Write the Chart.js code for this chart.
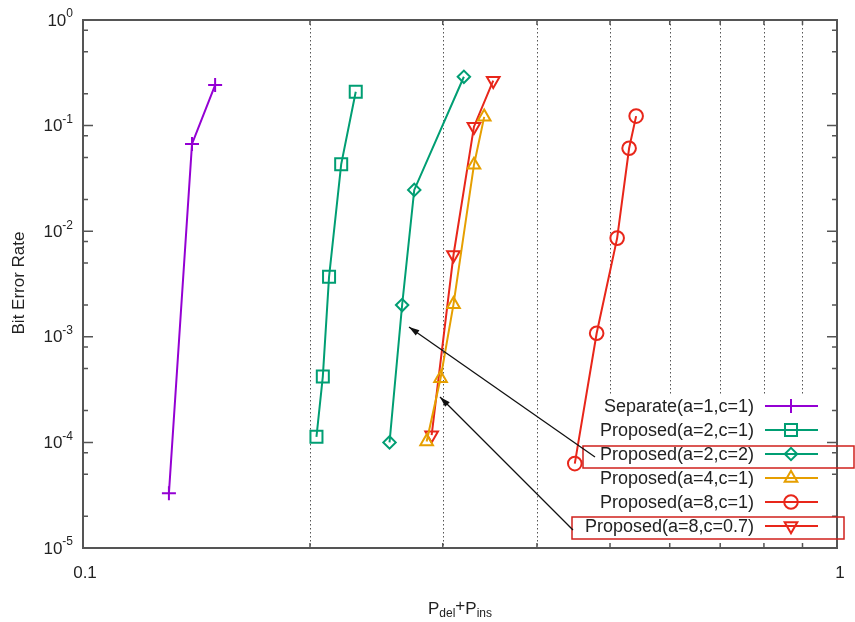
<!DOCTYPE html>
<html>
<head>
<meta charset="utf-8">
<script src="https://cdn.jsdelivr.net/npm/chart.js@4.4.1/dist/chart.umd.min.js"></script>
<style>
    html, body { margin: 0; padding: 0; background: #fff; }
    canvas { display: block; }
</style>
</head>
<body>
<canvas id="berChart" width="855" height="622"></canvas>
<script>
// values (P_del+P_ins, bit error rate)
const sepX = [0.130, 0.1395, 0.1497];
const sepY = [3.3e-5, 0.067, 0.242];

const p21X = [0.204, 0.208, 0.212, 0.220, 0.230];
const p21Y = [1.13e-4, 4.2e-4, 3.7e-3, 0.043, 0.209];

const p22X = [0.255, 0.265, 0.275, 0.320];
const p22Y = [1.0e-4, 2.0e-3, 0.0246, 0.29];

const p41X = [0.2856, 0.298, 0.310, 0.330, 0.3405];
const p41Y = [1.02e-4, 4.05e-4, 2.03e-3, 0.0424, 0.121];

const p81X = [0.449, 0.480, 0.511, 0.530, 0.5415];
const p81Y = [6.3e-5, 1.08e-3, 8.6e-3, 0.061, 0.123];

const p807X = [0.290, 0.310, 0.330, 0.350];
const p807Y = [1.17e-4, 5.95e-3, 0.0977, 0.266];

const seriesLabels = [
    'Separate(a=1,c=1)',
    'Proposed(a=2,c=1)',
    'Proposed(a=2,c=2)',
    'Proposed(a=4,c=1)',
    'Proposed(a=8,c=1)',
    'Proposed(a=8,c=0.7)'
];

// axis ticks
const xTickValues = [0.1, 1];
const xTickLabels = ['0.1', '1'];
const xMinorTicks = [0.2, 0.3, 0.4, 0.5, 0.6, 0.7, 0.8, 0.9];
const yTickExponents = [0, -1, -2, -3, -4, -5];
const yMinorFactors = [2, 5, 8];

// arrow tips in data units, pointing at the highlighted curves
const arrowTips = [[0.2706, 1.24e-3], [0.2975, 2.69e-4]];

const PURPLE = '#9400d3';
const GREEN = '#009e73';
const ORANGE = '#e69f00';
const RED = '#e8261a';

function toPoints(xs, ys) {
    return xs.map((x, i) => ({ x: x, y: ys[i] }));
}

function makeSet(label, xs, ys, color, style, radius, rotation) {
    return {
        label: label,
        data: toPoints(xs, ys),
        borderColor: color,
        backgroundColor: 'rgba(0,0,0,0)',
        borderWidth: 2,
        pointStyle: style,
        pointRadius: radius,
        pointHoverRadius: radius,
        pointRotation: rotation || 0,
        pointBorderColor: color,
        pointBackgroundColor: 'rgba(0,0,0,0)',
        pointBorderWidth: 2,
        tension: 0,
        fill: false
    };
}

const datasets = [
    makeSet(seriesLabels[0], sepX, sepY, PURPLE, 'cross', 7),
    makeSet(seriesLabels[1], p21X, p21Y, GREEN, 'rect', 8.5),
    makeSet(seriesLabels[2], p22X, p22Y, GREEN, 'rectRot', 6.2),
    makeSet(seriesLabels[3], p41X, p41Y, ORANGE, 'triangle', 7.3),
    makeSet(seriesLabels[4], p81X, p81Y, RED, 'circle', 6.8),
    makeSet(seriesLabels[5], p807X, p807Y, RED, 'triangle', 7.3, 180)
];

const FONT = '"Liberation Sans", Arial, sans-serif';
const TEXT = '#222';

function markerOpts(ds) {
    return {
        pointStyle: ds.pointStyle,
        radius: ds.pointRadius,
        rotation: ds.pointRotation,
        borderWidth: ds.pointBorderWidth
    };
}

const gridPlugin = {
    id: 'gnuplotGrid',
    beforeDatasetsDraw(chart) {
        const ctx = chart.ctx;
        const area = chart.chartArea;
        const xs = chart.scales.x;
        ctx.save();
        ctx.strokeStyle = '#555';
        ctx.lineWidth = 1;
        ctx.setLineDash([1.5, 2.5]);
        xMinorTicks.forEach(v => {
            const px = Math.round(xs.getPixelForValue(v)) + 0.5;
            ctx.beginPath();
            ctx.moveTo(px, area.top);
            ctx.lineTo(px, area.bottom);
            ctx.stroke();
        });
        ctx.setLineDash([]);
        // opaque legend box
        ctx.fillStyle = '#fff';
        ctx.fillRect(area.right - 247, area.bottom - 153, 246, 152);
        ctx.restore();
    }
};

const framePlugin = {
    id: 'gnuplotFrame',
    afterDraw(chart) {
        const ctx = chart.ctx;
        const area = chart.chartArea;
        const xs = chart.scales.x;
        const ys = chart.scales.y;
        ctx.save();

        // frame
        ctx.strokeStyle = '#555';
        ctx.lineWidth = 2;
        ctx.strokeRect(area.left, area.top, area.right - area.left, area.bottom - area.top);

        // y ticks, both sides, inward
        ctx.lineWidth = 1.5;
        ctx.beginPath();
        yTickExponents.forEach(e => {
            const py = ys.getPixelForValue(Math.pow(10, e));
            ctx.moveTo(area.left, py); ctx.lineTo(area.left + 10, py);
            ctx.moveTo(area.right, py); ctx.lineTo(area.right - 10, py);
            if (e > -5) {
                yMinorFactors.forEach(f => {
                    const my = ys.getPixelForValue(f * Math.pow(10, e - 1));
                    ctx.moveTo(area.left, my); ctx.lineTo(area.left + 5, my);
                    ctx.moveTo(area.right, my); ctx.lineTo(area.right - 5, my);
                });
            }
        });
        xMinorTicks.forEach(v => {
            const px = xs.getPixelForValue(v);
            ctx.moveTo(px, area.bottom); ctx.lineTo(px, area.bottom - 5);
            ctx.moveTo(px, area.top); ctx.lineTo(px, area.top + 5);
        });
        ctx.stroke();

        // y tick labels 10^n
        ctx.fillStyle = TEXT;
        ctx.textBaseline = 'middle';
        yTickExponents.forEach(e => {
            const py = ys.getPixelForValue(Math.pow(10, e));
            const exp = String(e).replace('-', '-');
            ctx.font = '12px ' + FONT;
            const ew = ctx.measureText(exp).width;
            ctx.textAlign = 'right';
            ctx.fillText(exp, 73, py - 6);
            ctx.font = '17px ' + FONT;
            ctx.fillText('10', 73 - ew, py + 1);
        });

        // x tick labels
        ctx.font = '17px ' + FONT;
        ctx.textAlign = 'center';
        xTickValues.forEach((v, i) => {
            ctx.fillText(xTickLabels[i], xs.getPixelForValue(v) + (i === 0 ? 2 : 3), area.bottom + 25);
        });

        // axis titles
        ctx.save();
        ctx.translate(19, 283);
        ctx.rotate(-Math.PI / 2);
        ctx.textAlign = 'center';
        ctx.font = '17px ' + FONT;
        ctx.fillText('Bit Error Rate', 0, 0);
        ctx.restore();

        const parts = [['P', 17, 0], ['del', 12, 5], ['+', 17, -3], ['P', 17, 0], ['ins', 12, 5]];
        let total = 0;
        parts.forEach(p => { ctx.font = p[1] + 'px ' + FONT; total += ctx.measureText(p[0]).width; });
        let tx = 460 - total / 2;
        ctx.textAlign = 'left';
        parts.forEach(p => {
            ctx.font = p[1] + 'px ' + FONT;
            ctx.fillText(p[0], tx, 609 + p[2]);
            tx += ctx.measureText(p[0]).width;
        });

        // legend
        const textRight = area.right - 83;
        const lineL = area.right - 72;
        const lineR = area.right - 19;
        const markX = area.right - 46;
        const rowY = i => area.bottom - 142 + i * 24;
        ctx.font = '18px ' + FONT;
        ctx.textAlign = 'right';
        chart.data.datasets.forEach((ds, i) => {
            const y = rowY(i);
            ctx.fillStyle = TEXT;
            ctx.fillText(ds.label, textRight, y + 1);
            ctx.strokeStyle = ds.borderColor;
            ctx.lineWidth = 2;
            ctx.beginPath();
            ctx.moveTo(lineL, y); ctx.lineTo(lineR, y);
            ctx.stroke();
            ctx.fillStyle = 'rgba(0,0,0,0)';
            Chart.helpers.drawPoint(ctx, markerOpts(ds), markX, y);
        });

        // highlight boxes
        ctx.strokeStyle = '#d0211c';
        ctx.lineWidth = 1.5;
        ctx.strokeRect(area.right - 254, rowY(2) - 8, 271, 22);
        ctx.strokeRect(area.right - 265, rowY(5) - 9, 272, 22);

        // arrows
        const tails = [[area.right - 242, rowY(2) + 3], [area.right - 264, rowY(5) + 4]];
        ctx.strokeStyle = '#111';
        ctx.fillStyle = '#111';
        ctx.lineWidth = 1.3;
        arrowTips.forEach((tip, i) => {
            const x2 = xs.getPixelForValue(tip[0]);
            const y2 = ys.getPixelForValue(tip[1]);
            const x1 = tails[i][0];
            const y1 = tails[i][1];
            const ang = Math.atan2(y2 - y1, x2 - x1);
            ctx.beginPath();
            ctx.moveTo(x1, y1); ctx.lineTo(x2, y2);
            ctx.stroke();
            ctx.beginPath();
            ctx.moveTo(x2, y2);
            ctx.lineTo(x2 - 11 * Math.cos(ang - 0.3), y2 - 11 * Math.sin(ang - 0.3));
            ctx.lineTo(x2 - 11 * Math.cos(ang + 0.3), y2 - 11 * Math.sin(ang + 0.3));
            ctx.closePath();
            ctx.fill();
        });

        ctx.restore();
    }
};

new Chart(document.getElementById('berChart').getContext('2d'), {
    type: 'line',
    data: { datasets: datasets },
    options: {
        responsive: false,
        animation: false,
        layout: { padding: { left: 83, top: 20, right: 18, bottom: 74 } },
        plugins: {
            legend: { display: false },
            tooltip: { enabled: false }
        },
        scales: {
            x: { type: 'logarithmic', min: 0.1, max: 1, display: false },
            y: { type: 'logarithmic', min: 1e-5, max: 1, display: false }
        }
    },
    plugins: [gridPlugin, framePlugin]
});
</script>
</body>
</html>
